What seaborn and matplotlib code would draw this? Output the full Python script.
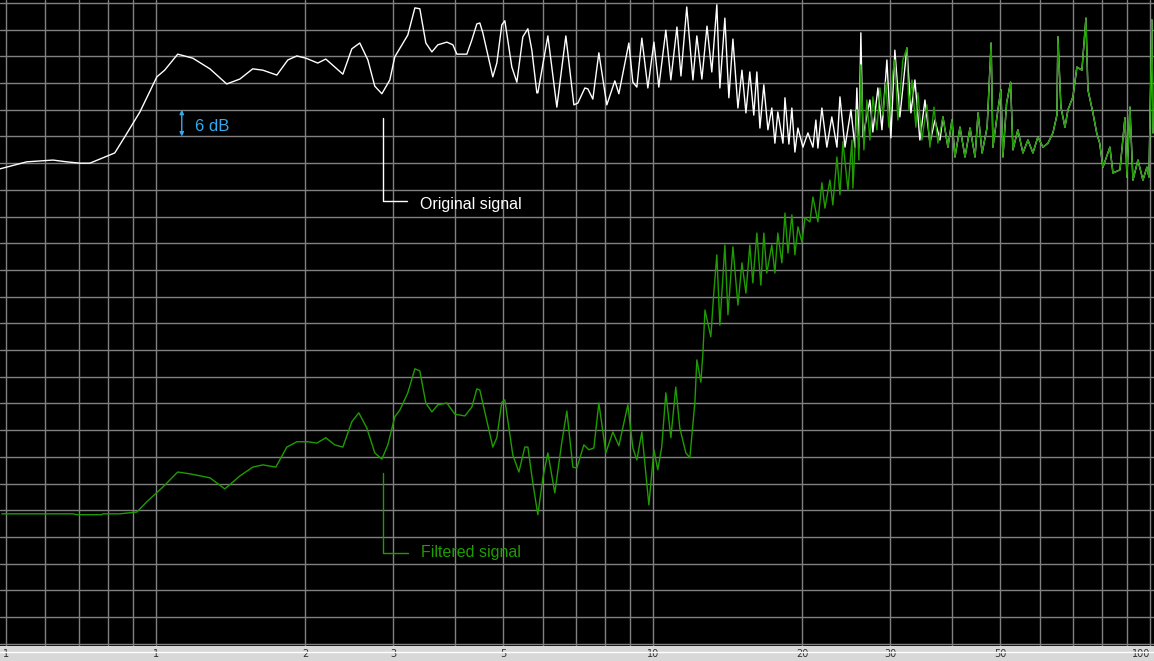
import matplotlib
matplotlib.use("Agg")
import matplotlib.pyplot as plt
from matplotlib.lines import Line2D
import numpy as np
import pandas as pd
import seaborn as sns

# Level (dB) against frequency.
orig_freq = [
    0.485, 0.550, 0.621, 0.662, 0.703, 0.737, 0.827, 0.866, 0.929, 1.005,
    1.042, 1.107, 1.187, 1.285, 1.389, 1.476, 1.567, 1.642, 1.752, 1.844,
    1.922, 2.004, 2.118, 2.198, 2.379, 2.480, 2.573, 2.671, 2.758, 2.850,
    2.957, 3.026, 3.214, 3.321, 3.398, 3.494, 3.593, 3.694, 3.851, 3.960,
    4.034, 4.225, 4.324, 4.425, 4.487, 4.549, 4.765, 4.854, 4.968, 5.038,
    5.204, 5.326, 5.476, 5.605, 5.709, 5.843, 5.870, 6.149, 6.410, 6.683,
    6.936, 7.065, 7.298, 7.400, 7.573, 7.787, 8.080, 8.386, 8.543, 8.948,
    9.115, 9.286, 9.503, 9.771, 10.05, 10.28, 10.62, 10.87, 11.18, 11.39,
    11.70, 12.04, 12.26, 12.55, 12.85, 13.14, 13.45, 13.64, 13.96, 14.22,
    14.49, 14.83, 15.11, 15.39, 15.67, 15.96, 16.19, 16.42, 16.72, 17.04,
    17.35, 17.60, 17.84, 18.27, 18.44, 18.78, 19.04, 19.31, 19.58, 20.04,
    20.51, 20.99, 21.28, 21.48, 21.88, 22.39, 22.91, 23.46, 23.79, 24.35,
    25.03, 25.50, 25.73, 25.97, 26.21, 26.46, 27.33, 27.71, 28.36, 28.90,
    29.57, 30.12, 30.68, 31.40, 32.44, 33.05, 33.67, 34.45, 35.27, 36.09,
    36.94, 37.81,
]
orig_db = [
    -37.3, -35.7, -35.3, -35.7, -36.0, -36.0, -33.7, -30.1, -24.5, -16.6,
    -15.1, -11.5, -12.4, -14.8, -18.2, -17.1, -14.8, -15.1, -16.2, -12.8,
    -11.9, -12.4, -13.5, -12.6, -16.0, -10.3, -9.0, -12.8, -18.7, -20.4,
    -17.3, -12.1, -7.2, -1.1, -1.3, -9.0, -11.0, -9.4, -8.8, -9.4,
    -11.5, -11.5, -8.3, -4.7, -4.5, -6.7, -16.6, -13.5, -4.9, -4.0,
    -14.4, -17.8, -7.6, -5.8, -10.6, -20.2, -20.2, -7.4, -23.4, -7.4,
    -22.9, -22.5, -19.1, -19.3, -21.6, -11.2, -22.9, -17.5, -20.4, -9.0,
    -17.8, -18.9, -7.9, -19.1, -8.8, -18.9, -6.1, -17.3, -5.4, -16.4,
    -0.9, -17.3, -7.4, -17.1, -5.2, -15.5, -0.4, -19.1, -3.4, -21.3,
    -8.1, -23.6, -15.1, -24.7, -15.5, -25.2, -15.5, -28.1, -18.4, -28.5,
    -23.6, -31.5, -24.5, -31.5, -21.3, -31.7, -23.6, -33.5, -28.1, -32.4,
    -29.2, -32.4, -26.3, -32.6, -23.6, -32.4, -25.6, -32.4, -21.1, -32.4,
    -24.0, -32.4, -19.1, -32.4, -6.7, -30.1, -21.8, -29.0, -19.1, -28.5,
    -12.8, -30.3, -10.6, -25.6, -10.1, -24.7, -17.3, -30.8, -21.8, -31.5,
    -26.3, -30.8,
]

filt_freq = [
    0.490, 0.681, 0.694, 0.779, 0.782, 0.846, 0.916, 0.959, 1.033, 1.107,
    1.170, 1.285, 1.377, 1.476, 1.567, 1.642, 1.744, 1.835, 1.922, 2.022,
    2.109, 2.198, 2.291, 2.379, 2.480, 2.561, 2.658, 2.758, 2.850, 2.930,
    3.026, 3.097, 3.214, 3.321, 3.398, 3.494, 3.593, 3.694, 3.851, 3.997,
    4.186, 4.324, 4.425, 4.487, 4.765, 4.854, 4.968, 5.038, 5.228, 5.376,
    5.527, 5.605, 5.736, 5.870, 6.009, 6.149, 6.350, 6.561, 6.714, 6.904,
    7.032, 7.265, 7.434, 7.608, 7.787, 8.043, 8.308, 8.543, 8.907, 9.115,
    9.286, 9.503, 9.817, 10.05, 10.23, 10.42, 10.62, 10.87, 11.12, 11.33,
    11.65, 11.87, 12.15, 12.26, 12.49, 12.61, 12.73, 13.08, 13.26, 13.45,
    13.64, 13.96, 14.16, 14.49, 14.83, 15.11, 15.39, 15.67, 15.89, 16.19,
    16.49, 16.72, 16.95, 17.35, 17.60, 17.84, 18.18, 18.44, 18.70, 19.04,
    19.31, 19.58, 19.95, 20.23, 20.70, 20.99, 21.48, 21.88, 22.19, 22.71,
    23.02, 23.46, 23.79, 24.12, 24.69, 25.15, 25.26, 25.73, 25.97, 26.21,
    26.58, 26.95, 27.33, 27.71, 28.23, 28.63, 29.03, 29.43, 29.84, 30.40,
    30.68, 31.11, 31.84, 32.44, 32.74, 33.21, 33.82, 34.14, 34.77, 35.59,
    36.09, 36.77, 37.45,
]
filt_db = [
    -114.8, -114.8, -115.0, -115.0, -114.8, -114.8, -114.4, -112.1, -108.8, -105.4,
    -105.8, -106.7, -109.2, -106.3, -104.3, -103.8, -104.3, -99.8, -98.6, -98.6,
    -98.9, -97.7, -99.3, -99.8, -94.1, -92.1, -95.5, -101.1, -102.5, -99.3,
    -93.0, -91.5, -87.6, -82.2, -82.7, -89.9, -91.9, -90.3, -89.9, -92.4,
    -92.8, -90.8, -86.7, -87.0, -99.8, -97.7, -89.7, -89.2, -101.6, -105.4,
    -99.8, -99.8, -107.9, -115.0, -106.7, -101.1, -110.1, -98.6, -91.7, -104.3,
    -104.5, -99.3, -100.4, -100.0, -89.9, -101.1, -96.4, -99.5, -90.3, -100.0,
    -102.7, -96.4, -112.8, -100.4, -104.9, -99.8, -87.6, -97.7, -86.3, -95.5,
    -101.1, -102.2, -89.7, -80.2, -85.2, -78.6, -69.0, -75.0, -65.2, -56.6,
    -72.4, -54.4, -70.1, -54.8, -67.9, -58.4, -65.2, -54.4, -62.9, -51.7,
    -63.4, -51.7, -60.7, -54.4, -60.7, -51.7, -58.4, -47.2, -56.2, -47.6,
    -56.6, -50.3, -53.7, -48.3, -49.2, -43.6, -49.2, -40.4, -46.1, -39.8,
    -45.4, -34.6, -43.1, -31.2, -42.0, -30.8, -41.6, -24.0, -35.3, -13.9,
    -33.0, -21.8, -30.8, -21.1, -28.5, -19.1, -25.2, -17.8, -27.9, -15.5,
    -12.8, -26.3, -12.8, -10.1, -24.0, -17.3, -27.9, -20.2, -30.8, -22.9,
    -32.4, -23.4, -31.5,
]

# above ~38 the two traces lie on top of each other
tail_freq = [
    38.33, 39.23, 39.97, 40.53, 41.48, 42.46, 43.46, 44.48, 45.11, 45.96,
    47.04, 47.92, 48.32, 49.45, 50.15, 50.61, 51.48, 52.44, 53.01, 54.23,
    55.53, 56.82, 58.16, 59.51, 60.92, 62.35, 63.80, 64.99, 65.29, 66.21,
    67.46, 68.40, 70.00, 71.30, 72.98, 74.34, 75.03, 76.79, 78.14, 79.23,
    80.43, 83.08, 84.25, 87.03, 89.07, 89.89, 91.15, 92.43, 94.59, 96.81,
    98.62, 99.54, 100.9, 101.4,
]
tail_db = [
    -25.6, -32.4, -26.3, -34.6, -27.9, -34.6, -28.1, -34.6, -24.7, -33.7,
    -27.9, -9.0, -32.4, -24.0, -19.5, -34.6, -22.5, -17.8, -33.0, -28.5,
    -33.7, -30.8, -33.7, -30.1, -32.4, -31.5, -29.2, -25.2, -7.6, -23.4,
    -27.9, -24.0, -21.1, -14.4, -15.1, -3.4, -19.5, -24.7, -29.2, -31.5,
    -36.9, -32.4, -38.2, -37.5, -25.8, -39.1, -23.4, -39.8, -35.3, -39.8,
    -36.9, -39.1, -3.8, -29.2,
]

grid_freqs = [0.5, 0.6, 0.7, 0.8, 0.9, 1, 2, 3, 4, 5, 6, 7, 8, 9,
              10, 20, 30, 40, 50, 60, 70, 80, 90, 100]
labelled_freqs = [0.5, 1, 2, 3, 5, 10, 20, 30, 50, 100]
labelled_text = ["1", "1", "2", "3", "5", "10", "20", "30", "50", "100"]

WHITE = "#ffffff"
GREEN = "#1f9c00"
BLUE = "#33aaee"
LABEL_FONT = ["Liberation Sans", "DejaVu Sans"]

sns.set_style("dark")
plt.rcParams["font.family"] = ["DejaVu Sans"]

original = pd.DataFrame({"freq": orig_freq + tail_freq, "level": orig_db + tail_db})
filtered = pd.DataFrame({"freq": filt_freq + tail_freq, "level": filt_db + tail_db})

fig = plt.figure(figsize=(11.54, 6.61), dpi=100, facecolor="#d8d8d8")
ax = fig.add_axes([0, 15 / 661, 1, 646 / 661])
ax.set_facecolor("black")

sns.lineplot(data=original, x="freq", y="level", color=WHITE, linewidth=1.0,
             estimator=None, sort=False, ax=ax, zorder=3)
sns.lineplot(data=filtered, x="freq", y="level", color=GREEN, linewidth=1.0,
             estimator=None, sort=False, ax=ax, zorder=4)

ax.set_xscale("log")
ax.set_xlim(0.486, 101.9)
ax.set_ylim(-144.5, 0.67)

ax.set_xticks(grid_freqs)
ax.set_xticklabels([labelled_text[labelled_freqs.index(f)] if f in labelled_freqs else ""
                    for f in grid_freqs])
ax.xaxis.set_minor_locator(matplotlib.ticker.NullLocator())
ax.set_yticks(np.arange(0, -145, -6))
ax.tick_params(axis="x", length=0, pad=2, labelsize=7, labelcolor="#303030")
ax.tick_params(axis="y", left=False, labelleft=False)
# last label sits at the right edge; keep it inside the figure
ax.get_xticklabels()[-1].set_horizontalalignment("right")
ax.grid(True, color="#808080", linewidth=1.0)
ax.set_axisbelow(True)
ax.set_xlabel("")
ax.set_ylabel("")
for spine in ax.spines.values():
    spine.set_visible(False)

# 6 dB scale marker
ax.annotate("", xy=(1.128, -24.0), xytext=(1.128, -30.0),
            arrowprops=dict(arrowstyle="<|-|>", color=BLUE, lw=1.0,
                            shrinkA=0, shrinkB=0, mutation_scale=6))
ax.text(1.198, -28.8, "6 dB", color=BLUE, fontsize=12, va="baseline",
        family=LABEL_FONT)

# trace callouts
ax.plot([2.862, 2.862, 3.199], [-25.8, -44.5, -44.5], color=WHITE, lw=1.0)
ax.text(3.398, -46.4, "Original signal", color=WHITE, fontsize=11.5,
        va="baseline", family=LABEL_FONT)
ax.plot([2.862, 2.862, 3.214], [-105.6, -123.6, -123.6], color=GREEN, lw=1.0)
ax.text(3.414, -124.5, "Filtered signal", color=GREEN, fontsize=11.5,
        va="baseline", family=LABEL_FONT)

fig.add_artist(Line2D([0, 1], [9 / 661, 9 / 661], transform=fig.transFigure,
                      color="white", linewidth=1.0, zorder=5))

fig.savefig("out.png", dpi=100, facecolor=fig.get_facecolor())
